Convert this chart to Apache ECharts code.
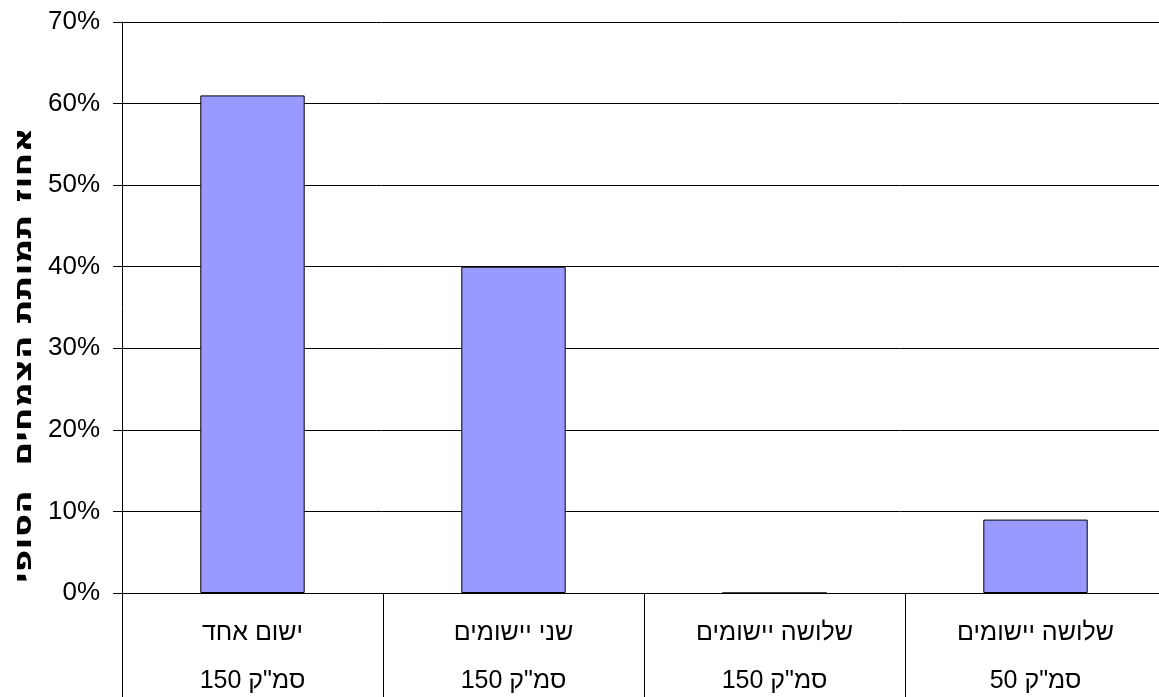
<!DOCTYPE html>
<html>
<head>
<meta charset="utf-8">
<script src="https://cdn.jsdelivr.net/npm/echarts@6/dist/echarts.min.js"></script>
<style>
html,body{margin:0;padding:0;background:#fff;}
#chart{width:1159px;height:697px;}
</style>
</head>
<body>
<div id="chart"></div>
<script>
const categories = ['ישום אחד\nסמ"ק 150', 'שני יישומים\nסמ"ק 150', 'שלושה יישומים\nסמ"ק 150', 'שלושה יישומים\nסמ"ק 50'];
const values = [61, 40, 0, 9];
const yAxisTitle = 'אחוז תמותת הצמחים  הסופי';
const yTicks = { min: 0, max: 70, interval: 10 };

const font = '"Liberation Sans", Arial, "DejaVu Sans", sans-serif';
const chart = echarts.init(document.getElementById('chart'), null, { renderer: 'canvas' });
chart.setOption({
  animation: false,
  backgroundColor: '#ffffff',
  grid: { left: 122, top: 22, width: 1044, height: 571, containLabel: false, outerBoundsMode: 'none' },
  xAxis: {
    type: 'category',
    data: categories,
    boundaryGap: true,
    axisLine: { show: true, lineStyle: { color: '#000', width: 1 } },
    axisTick: { show: true, length: 110, lineStyle: { color: '#000', width: 1 } },
    axisLabel: { color: '#000', fontSize: 25, fontFamily: font, lineHeight: 48, margin: 16, interval: 0 }
  },
  yAxis: {
    type: 'value',
    min: yTicks.min, max: yTicks.max, interval: yTicks.interval,
    axisLine: { show: true, lineStyle: { color: '#000', width: 1 } },
    axisTick: { show: true, length: 9, lineStyle: { color: '#000' } },
    splitLine: { show: true, lineStyle: { color: '#000', width: 1 } },
    axisLabel: { color: '#000', fontSize: 26, fontFamily: font, margin: 22, formatter: '{value}%' }
  },
  graphic: [{
    type: 'text',
    x: 24, y: 355,
    rotation: Math.PI / 2,
    scaleX: 1.34,
    style: {
      text: yAxisTitle,
      align: 'center', verticalAlign: 'middle',
      fill: '#000',
      font: 'bold 26px "DejaVu Sans", "Liberation Sans", sans-serif'
    }
  }],
  series: [{
    type: 'bar',
    data: values,
    barWidth: '40%',
    itemStyle: { color: '#9999FF', borderColor: '#000', borderWidth: 1 }
  }]
});
</script>
</body>
</html>
